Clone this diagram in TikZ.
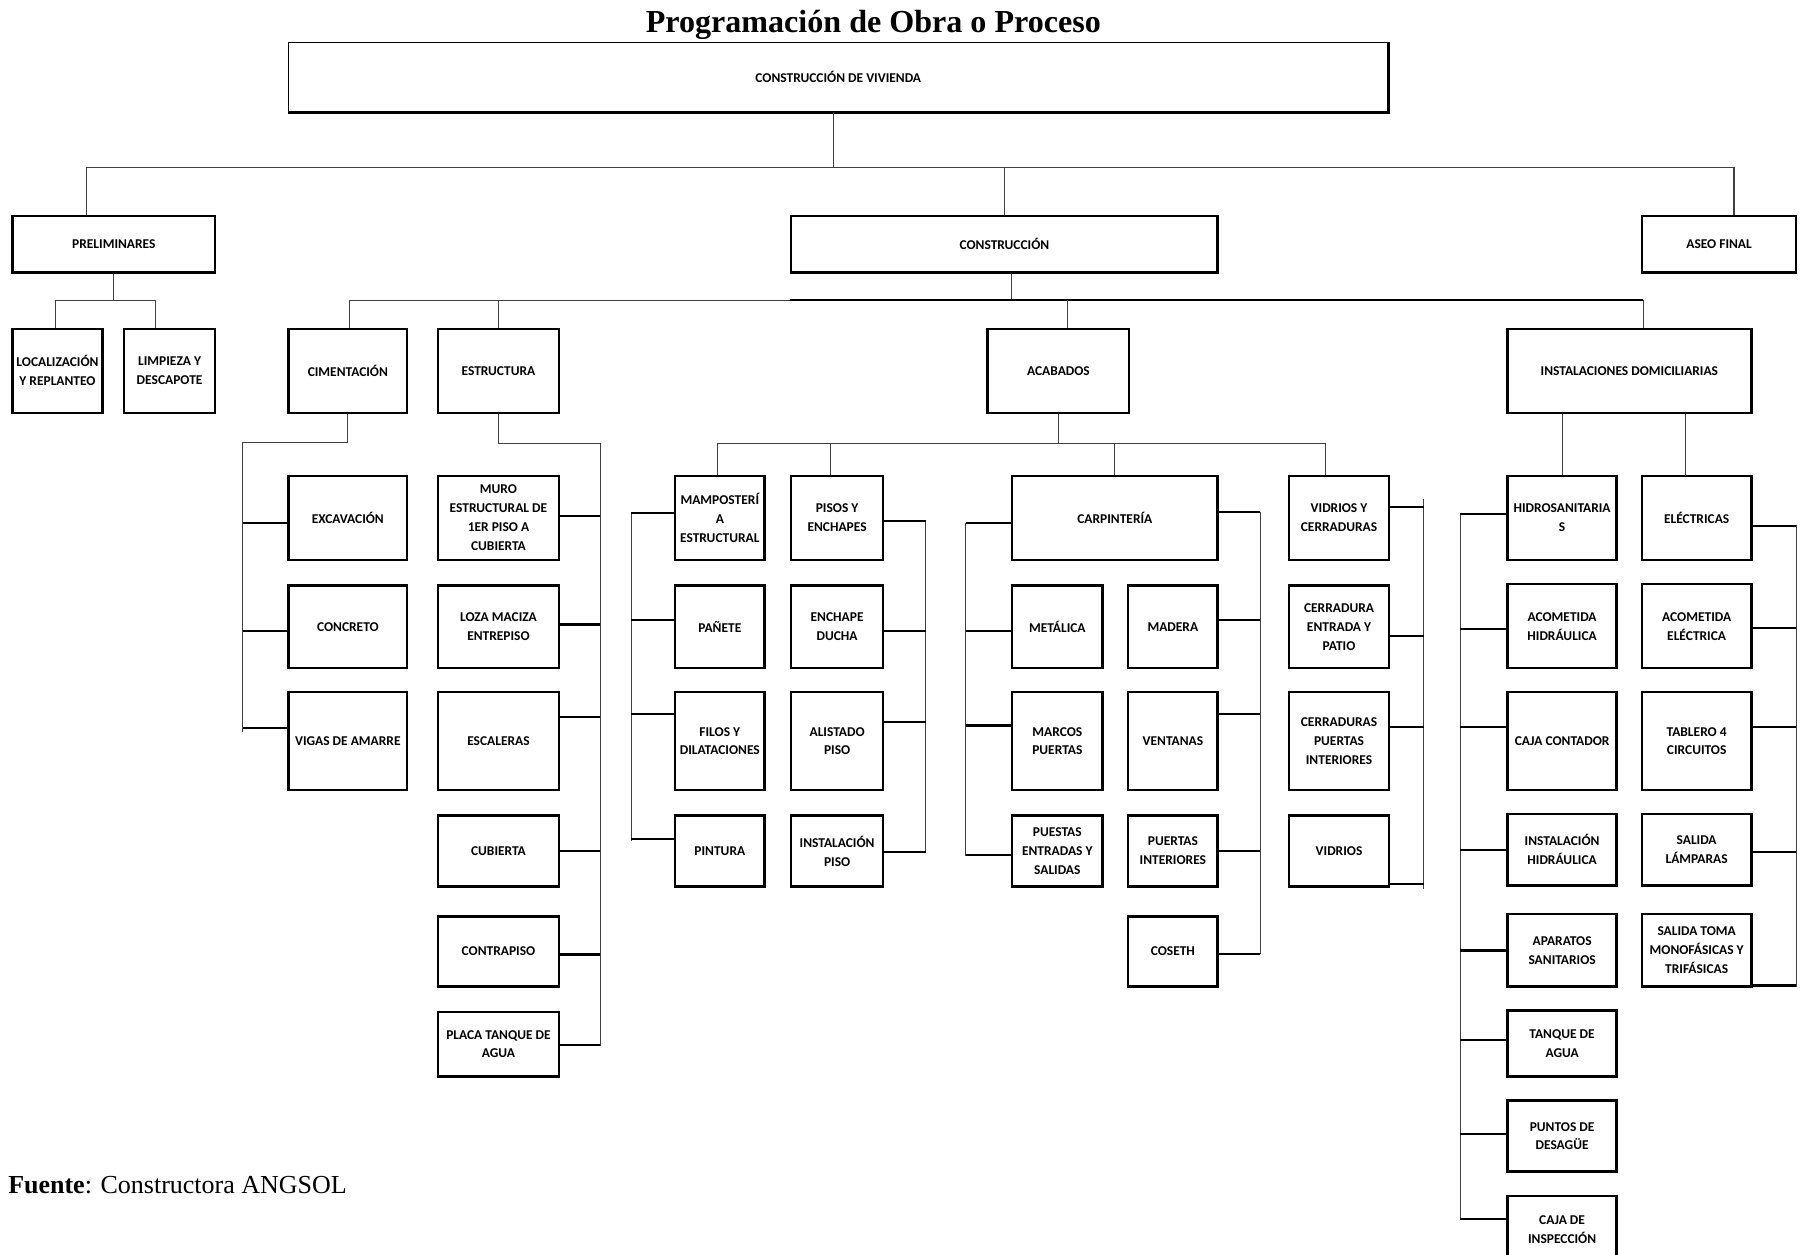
\documentclass[tikz,border=0pt]{standalone}
\usepackage{fontspec}
\setmainfont{Liberation Serif}
\newfontfamily\cajafont{Carlito}

\tikzset{
	caja/.style={draw=black, line width=2.2pt, inner sep=0pt, align=center,
		font=\cajafont\bfseries\fontsize{11.7}{16.5}\selectfont, text depth=-10pt},
	esq/.style n args={4}{at={({(#1+#3)/2},{(#2+#4)/2})},
		minimum width={(#3)-(#1)}, minimum height={(#4)-(#2)}},
	rama/.style={draw=black!75, line width=1pt},
	stub/.style={draw=black, line width=2pt}
}

\begin{document}
\begin{tikzpicture}[x=1pt,y=-1pt]
	\useasboundingbox (0,0) rectangle (1568,1091);
	
	\node[anchor=base] (titulo) at (759.5,28) {\fontsize{27.9}{30}\selectfont\bfseries Programación de Obra o Proceso};
	\node[anchor=base west, inner sep=0pt] (fuente) at (7,1038) {\fontsize{22.6}{24}\selectfont\textbf{Fuente}: Constructora ANGSOL};
	
	\node[caja, line width=1.4pt, esq={251}{37}{1207}{97}] (viv) {CONSTRUCCIÓN DE VIVIENDA};
	\draw[line width=3pt] (viv.south west) -- (viv.south east) -- (viv.north east);
	
	\node[caja, esq={11}{188}{187}{237}] (prel) {PRELIMINARES};
	\node[caja, esq={688}{188}{1059}{237}] (cons) {CONSTRUCCIÓN};
	\node[caja, esq={1428}{188}{1562}{237}] (aseo) {ASEO FINAL};
	
	\node[caja, esq={11}{286}{89}{359}] (loc) {LOCALIZACIÓN\\Y REPLANTEO};
	\node[caja, esq={108}{286}{187}{359}] (limp) {LIMPIEZA Y\\DESCAPOTE};
	\node[caja, esq={251}{286}{354}{359}] (cim) {CIMENTACIÓN};
	\node[caja, esq={381}{286}{486}{359}] (est) {ESTRUCTURA};
	\node[caja, esq={859}{286}{982}{359}] (acab) {ACABADOS};
	\node[caja, esq={1311}{286}{1523}{359}] (inst) {INSTALACIONES DOMICILIARIAS};
	
	\node[caja, esq={251}{414}{354}{487}] (exc) {EXCAVACIÓN};
	\node[caja, esq={251}{509}{354}{581}] (concr) {CONCRETO};
	\node[caja, esq={251}{602}{354}{687}] (vig) {VIGAS DE AMARRE};
	
	\node[caja, esq={381}{414}{486}{487}] (muro) {MURO\\ESTRUCTURAL DE\\1ER PISO A\\CUBIERTA};
	\node[caja, esq={381}{509}{486}{581}] (loza) {LOZA MACIZA\\ENTREPISO};
	\node[caja, esq={381}{602}{486}{687}] (esc) {ESCALERAS};
	\node[caja, esq={381}{709}{486}{771}] (cub) {CUBIERTA};
	\node[caja, esq={381}{797}{486}{858}] (contra) {CONTRAPISO};
	\node[caja, esq={381}{880}{486}{936}] (placa) {PLACA TANQUE DE\\AGUA};
	
	\node[caja, esq={587}{414}{665}{487}] (mamp) {MAMPOSTERÍ\\A\\ESTRUCTURAL};
	\node[caja, esq={587}{509}{665}{581}] (pan) {PAÑETE};
	\node[caja, esq={587}{602}{665}{687}] (filos) {FILOS Y\\DILATACIONES};
	\node[caja, esq={587}{709}{665}{771}] (pint) {PINTURA};
	
	\node[caja, esq={688}{414}{768}{487}] (pisos) {PISOS Y\\ENCHAPES};
	\node[caja, esq={688}{509}{768}{581}] (ench) {ENCHAPE\\DUCHA};
	\node[caja, esq={688}{602}{768}{687}] (alis) {ALISTADO\\PISO};
	\node[caja, esq={688}{709}{768}{771}] (instp) {INSTALACIÓN\\PISO};
	
	\node[caja, esq={880}{414}{1059}{487}] (carp) {CARPINTERÍA};
	\node[caja, esq={880}{509}{959}{581}] (met) {METÁLICA};
	\node[caja, esq={880}{602}{959}{687}] (marc) {MARCOS\\PUERTAS};
	\node[caja, esq={880}{709}{959}{771}] (pent) {PUESTAS\\ENTRADAS Y\\SALIDAS};
	\node[caja, esq={981}{509}{1059}{581}] (mad) {MADERA};
	\node[caja, esq={981}{602}{1059}{687}] (vent) {VENTANAS};
	\node[caja, esq={981}{709}{1059}{771}] (puei) {PUERTAS\\INTERIORES};
	\node[caja, esq={981}{797}{1059}{858}] (cos) {COSETH};
	
	\node[caja, esq={1121}{414}{1208}{487}] (vidc) {VIDRIOS Y\\CERRADURAS};
	\node[caja, esq={1121}{509}{1208}{581}] (cent) {CERRADURA\\ENTRADA Y\\PATIO};
	\node[caja, esq={1121}{602}{1208}{687}] (cpi) {CERRADURAS\\PUERTAS\\INTERIORES};
	\node[caja, esq={1121}{709}{1208}{771}] (vidr) {VIDRIOS};
	
	\node[caja, esq={1311}{414}{1406}{487}] (hidro) {HIDROSANITARIA\\S};
	\node[caja, esq={1311}{508}{1406}{581}] (acoh) {ACOMETIDA\\HIDRÁULICA};
	\node[caja, esq={1311}{602}{1406}{687}] (cajc) {CAJA CONTADOR};
	\node[caja, esq={1311}{708}{1406}{770}] (insh) {INSTALACIÓN\\HIDRÁULICA};
	\node[caja, esq={1311}{795}{1406}{858}] (apar) {APARATOS\\SANITARIOS};
	\node[caja, esq={1311}{879}{1406}{936}] (tanq) {TANQUE DE\\AGUA};
	\node[caja, esq={1311}{957}{1406}{1019}] (desag) {PUNTOS DE\\DESAGÜE};
	\node[caja, esq={1311}{1040}{1406}{1098}] (insp) {CAJA DE\\INSPECCIÓN};
	
	\node[caja, esq={1428}{414}{1523}{487}] (elec) {ELÉCTRICAS};
	\node[caja, esq={1428}{508}{1523}{581}] (acoe) {ACOMETIDA\\ELÉCTRICA};
	\node[caja, esq={1428}{602}{1523}{687}] (tabl) {TABLERO 4\\CIRCUITOS};
	\node[caja, esq={1428}{708}{1523}{770}] (lamp) {SALIDA\\LÁMPARAS};
	\node[caja, esq={1428}{795}{1523}{858}] (toma) {SALIDA TOMA\\MONOFÁSICAS Y\\TRIFÁSICAS};
	
	\coordinate (b0) at (725,146);
	\coordinate (b1) at (75,146);
	\coordinate (b2) at (1508,146);
	\draw[rama] (viv.south -| b0) -- (b0);
	\draw[rama] (prel.north -| b1) -- (b1) -- (b2) -- (aseo.north -| b2);
	\draw[rama] (cons.north) -- (cons.north |- b0);
	
	\coordinate (p1) at (48,261);
	\coordinate (p2) at (135,261);
	\draw[rama] (prel.south) -- (prel.south |- p1);
	\draw[rama] (loc.north -| p1) -- (p1) -- (p2) -- (limp.north -| p2);
	
	\coordinate (c0) at (880,261);
	\coordinate (c1) at (304,261);
	\coordinate (c2) at (1429,261);
	\coordinate (c3) at (928,261);
	\draw[rama] (cons.south -| c0) -- (c0);
	\draw[rama] (cim.north -| c1) -- (c1) -- (c2) -- (inst.north -| c2);
	\draw[line width=1.8pt] (cons.west |- c1) -- (c2);
	\draw[rama] (est.north) -- (est.north |- c1);
	\draw[rama] (acab.north -| c3) -- (c3);
	
	\coordinate (cimsp) at (211,385);
	\coordinate (cimspb) at (211,637);
	\draw[rama] (cim.south) |- (cimsp) -- (cimspb);
	\coordinate (estsp) at (522,386);
	\coordinate (estspb) at (522,910);
	\draw[rama] (est.south) |- (estsp) -- (estspb);
	
	\coordinate (a0) at (922,386);
	\coordinate (a1) at (624,386);
	\coordinate (a2) at (1153,386);
	\coordinate (a3) at (722,386);
	\draw[rama] (acab.south) -- (acab.south |- a0);
	\draw[rama] (mamp.north -| a1) -- (a1) -- (a2) -- (vidc.north -| a2);
	\draw[rama] (pisos.north -| a3) -- (a3);
	\draw[rama] (carp.north) -- (carp.north |- a1);
	
	\coordinate (i2) at (1466,414);
	\draw[rama] (inst.south -| hidro.north) -- (hidro.north);
	\draw[rama] (inst.south -| i2) -- (i2);
	
	\coordinate (mampsp) at (549,447);
	\coordinate (mampspb) at (549,731);
	\coordinate (pissp) at (805,454);
	\coordinate (pisspb) at (805,741);
	\coordinate (carpl) at (840,455);
	\coordinate (carplb) at (840,744);
	\coordinate (carpr) at (1096,445);
	\coordinate (carprb) at (1096,830);
	\coordinate (vidsp) at (1238,434);
	\coordinate (vidspb) at (1238,773);
	\coordinate (hidsp) at (1270,447);
	\coordinate (hidspb) at (1270,1060);
	\coordinate (elecsp) at (1562,457);
	\coordinate (elecspb) at (1562,858);
	\draw[rama] (mampsp) -- (mampspb);
	\draw[rama] (pissp) -- (pisspb);
	\draw[rama] (carpl) -- (carplb);
	\draw[rama] (carpr) -- (carprb);
	\draw[rama] (vidsp) -- (vidspb);
	\draw[rama] (hidsp) -- (hidspb);
	\draw[rama] (elecsp) -- (elecspb);
	
	\foreach \n/\d in {exc/-4.5, concr/-4, vig/11.5}
		\draw[stub] ([yshift=\d pt]\n.west) coordinate (t) -- (t -| cimsp);
	\foreach \n/\d in {muro/2, loza/2, esc/21, cub/0, contra/-2.5, placa/-1}
		\draw[stub] ([yshift=\d pt]\n.east) coordinate (t) -- (t -| estsp);
	\foreach \n/\d in {mamp/4.5, pan/6, filos/23.5, pint/10.5}
		\draw[stub] ([yshift=\d pt]\n.west) coordinate (t) -- (t -| mampsp);
	\foreach \n/\d in {pisos/-2.5, ench/-4, alis/16.5, instp/-1}
		\draw[stub] ([yshift=\d pt]\n.east) coordinate (t) -- (t -| pissp);
	\foreach \n/\d in {carp/-4.5, met/-4, marc/13.5, pent/-3.5}
		\draw[stub] ([yshift=\d pt]\n.west) coordinate (t) -- (t -| carpl);
	\foreach \n/\d in {carp/5.5, mad/6, vent/23.5, puei/0, cos/-2}
		\draw[stub] ([yshift=\d pt]\n.east) coordinate (t) -- (t -| carpr);
	\foreach \n/\d in {vidc/9.5, cent/-8, cpi/12.5, vidr/-29}
		\draw[stub] ([yshift=\d pt]\n.east) coordinate (t) -- (t -| vidsp);
	\foreach \n/\d in {hidro/3.5, acoh/-2.5, cajc/12.5, insh/0, apar/0, tanq/3, desag/2, insp/9}
		\draw[stub] ([yshift=\d pt]\n.west) coordinate (t) -- (t -| hidsp);
	\foreach \n/\d in {elec/-7, acoe/-1.5, tabl/12.5, lamp/-2, toma/-30.5}
		\draw[stub] ([yshift=\d pt]\n.east) coordinate (t) -- (t -| elecsp);
\end{tikzpicture}
\end{document}
